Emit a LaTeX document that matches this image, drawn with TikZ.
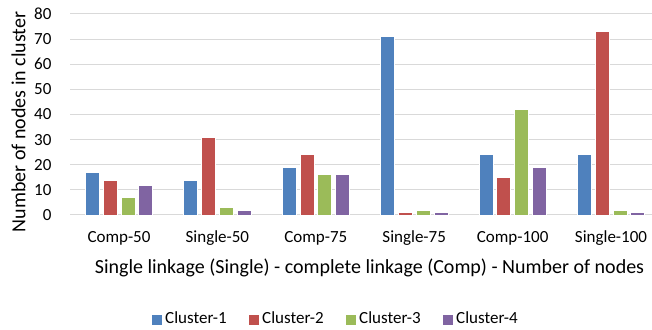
\documentclass[tikz,border=0pt]{standalone}
\usepackage{fontspec}
\setmainfont{Carlito}
\usetikzlibrary{calc}
\definecolor{clOne}{HTML}{4F81BD}
\definecolor{clTwo}{HTML}{C0504D}
\definecolor{clThree}{HTML}{9BBB59}
\definecolor{clFour}{HTML}{8064A2}
\definecolor{gridgray}{HTML}{D9D9D9}
\begin{document}
\begin{tikzpicture}[x=1pt, y=1pt,
	lbl/.style={font=\fontsize{17}{20}\selectfont},
	ttl/.style={font=\fontsize{20}{24}\selectfont},
	gridline/.style={gridgray, line width=1pt},
	bar/.style={draw=white, line width=0.6pt}]
	\newcommand{\ybase}{114}
	\newcommand{\yu}{2.5125}
	\newcommand{\gw}{98.4}
	\useasboundingbox (0,0) rectangle (652,329);
	% grid and ticks
	\foreach \v in {0,10,...,80}
	{
		\draw[gridline] (70,\ybase+\v*\yu) -- (652,\ybase+\v*\yu);
		\node[lbl, anchor=east] (tick\v) at (55,\ybase+\v*\yu) {\v};
	}
	% bars
	\foreach \name/\a/\b/\c/\d [count=\i from 0] in
		{Comp-50/17/14/7/12, Single-50/14/31/3/2, Comp-75/19/24/16/16,
		 Single-75/71/1/2/1, Comp-100/24/15/42/19, Single-100/24/73/2/1}
	{
		\coordinate (grp\i) at (119+\i*\gw,\ybase);
		\foreach \h/\col [count=\k from 0] in {\a/clOne,\b/clTwo,\c/clThree,\d/clFour}
		{
			\draw[bar, fill=\col] ($(grp\i)+({(\k-1.5)*17.8-7},0)$) rectangle ++(14,\h*\yu);
		}
		\node[lbl, anchor=base] (cat\i) at (119+\i*\gw,86) {\name};
	}
	% titles
	\node[ttl, rotate=90] (ytitle) at (18.5,207) {Number of nodes in cluster};
	\node[ttl, anchor=base] (xtitle) at (369.5,56) {Single linkage (Single) - complete linkage (Comp) - Number of nodes};
	% legend
	\foreach \lab/\col [count=\j from 0] in {Cluster-1/clOne,Cluster-2/clTwo,Cluster-3/clThree,Cluster-4/clFour}
	{
		\fill[\col] (152+\j*97,4.5) rectangle ++(10,10);
		\node[lbl, anchor=base west, inner sep=0pt] (leg\j) at (165+\j*97,5.7) {\lab};
	}
\end{tikzpicture}
\end{document}
